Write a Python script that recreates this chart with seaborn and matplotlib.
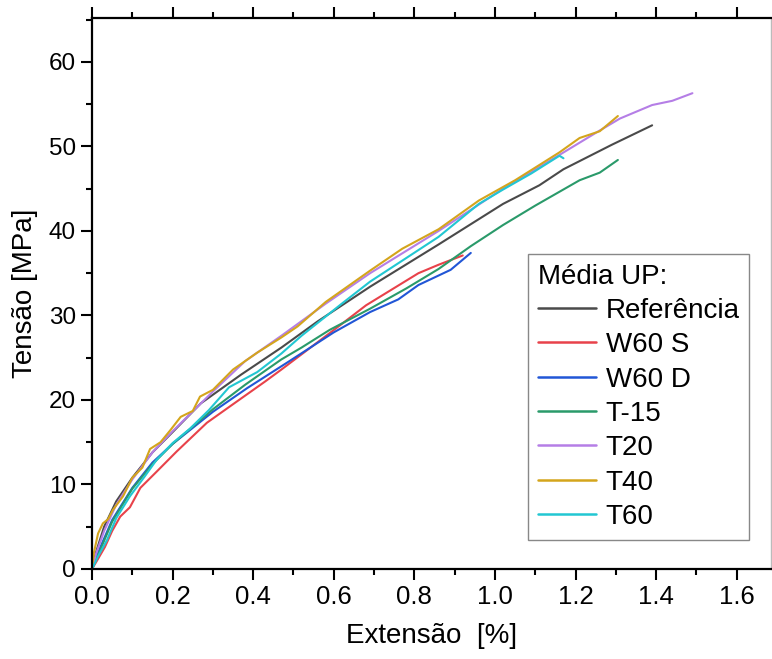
import matplotlib
matplotlib.use("Agg")
import matplotlib.pyplot as plt
from matplotlib import font_manager
from matplotlib.ticker import MultipleLocator
import pandas as pd
import seaborn as sns

# Mean stress-strain curves per series: strain [%] and stress [MPa]
ref_x = [0, 0.01, 0.03, 0.06, 0.10, 0.15, 0.20, 0.27, 0.37, 0.47, 0.56, 0.69, 0.86, 1.02, 1.11, 1.17, 1.29, 1.39]
ref_y = [0, 2.0, 5.0, 8.0, 10.8, 13.8, 16.2, 19.6, 23.0, 26.2, 29.3, 33.4, 38.4, 43.2, 45.4, 47.3, 50.2, 52.5]

w60s_x = [0, 0.015, 0.032, 0.05, 0.07, 0.094, 0.12, 0.16, 0.21, 0.285, 0.35, 0.43, 0.47, 0.52, 0.57, 0.62, 0.68, 0.81, 0.86, 0.92]
w60s_y = [0, 1.2, 2.6, 4.5, 6.2, 7.3, 9.6, 11.5, 13.9, 17.3, 19.5, 22.2, 23.6, 25.4, 27.2, 29.0, 31.2, 35.0, 36.0, 37.1]

w60d_x = [0, 0.02, 0.05, 0.10, 0.15, 0.20, 0.30, 0.385, 0.49, 0.60, 0.69, 0.76, 0.81, 0.89, 0.94]
w60d_y = [0, 2.5, 5.8, 9.6, 12.6, 14.8, 18.6, 21.4, 24.6, 28.0, 30.4, 31.9, 33.6, 35.4, 37.4]

t15_x = [0, 0.02, 0.05, 0.10, 0.15, 0.20, 0.30, 0.38, 0.47, 0.52, 0.59, 0.69, 0.78, 0.86, 0.94, 1.02, 1.10, 1.21, 1.26, 1.305]
t15_y = [0, 2.2, 5.6, 9.5, 12.4, 14.8, 18.9, 21.8, 24.8, 26.2, 28.3, 30.8, 33.2, 35.5, 38.2, 40.7, 43.0, 46.0, 46.9, 48.4]

t20_x = [0, 0.01, 0.03, 0.06, 0.10, 0.15, 0.20, 0.30, 0.38, 0.47, 0.58, 0.69, 0.86, 1.02, 1.16, 1.25, 1.31, 1.39, 1.44, 1.49]
t20_y = [0, 1.8, 4.5, 7.6, 10.6, 13.8, 16.3, 21.0, 24.6, 27.6, 31.4, 35.0, 40.0, 45.0, 49.0, 51.6, 53.3, 54.9, 55.4, 56.3]

t40_x = [0, 0.005, 0.015, 0.027, 0.04, 0.052, 0.077, 0.10, 0.125, 0.144, 0.17, 0.194, 0.22, 0.25, 0.268,
         0.30, 0.35, 0.41, 0.47, 0.51, 0.58, 0.69, 0.77, 0.86, 0.96, 1.02, 1.05, 1.09, 1.16, 1.21, 1.26, 1.305]
t40_y = [0, 2.0, 4.2, 5.4, 5.9, 7.0, 8.6, 10.8, 12.0, 14.2, 15.0, 16.4, 18.0, 18.7, 20.4,
         21.2, 23.6, 25.6, 27.4, 28.7, 31.6, 35.3, 37.9, 40.2, 43.6, 45.2, 46.0, 47.2, 49.3, 51.0, 51.8, 53.6]

t60_x = [0, 0.015, 0.037, 0.06, 0.094, 0.13, 0.16, 0.20, 0.243, 0.29, 0.34, 0.41, 0.47, 0.52, 0.62, 0.69,
         0.78, 0.86, 0.96, 1.02, 1.09, 1.14, 1.16, 1.17]
t60_y = [0, 1.5, 3.4, 6.0, 8.6, 10.9, 12.9, 14.9, 16.6, 18.8, 21.5, 23.3, 25.5, 27.6, 31.4, 34.0,
         36.8, 39.3, 43.2, 44.9, 46.8, 48.3, 48.9, 48.6]

series_names = ["Referência", "W60 S", "W60 D", "T-15", "T20", "T40", "T60"]
series_x = [ref_x, w60s_x, w60d_x, t15_x, t20_x, t40_x, t60_x]
series_y = [ref_y, w60s_y, w60d_y, t15_y, t20_y, t40_y, t60_y]
colors = ["#4a4a4a", "#e8424a", "#2156d6", "#2a9a6a", "#b57ee6", "#d4a51c", "#22c7d2"]

rows = []
for name, xs, ys in zip(series_names, series_x, series_y):
    for xv, yv in zip(xs, ys):
        rows.append({"serie": name, "strain": xv, "stress": yv})
df = pd.DataFrame(rows)

sns.set_theme(style="ticks")
names = {f.name for f in font_manager.fontManager.ttflist}
base = "Liberation Sans" if "Liberation Sans" in names else "DejaVu Sans"
plt.rcParams["font.family"] = [base, "DejaVu Sans"]
plt.rcParams.update({
    "axes.edgecolor": "black",
    "axes.linewidth": 1.6,
    "text.color": "black",
    "axes.labelcolor": "black",
    "xtick.color": "black",
    "ytick.color": "black",
})

fig = plt.figure(figsize=(7.72, 6.59), dpi=100)
ax = fig.add_axes([0.1192, 0.1366, 0.8795, 0.8361])

sns.lineplot(data=df, x="strain", y="stress", hue="serie", hue_order=series_names,
             palette=colors, estimator=None, units="serie", sort=False,
             linewidth=1.5, ax=ax)

ax.set_xlim(0, 1.685)
ax.set_ylim(0, 65.2)
ax.xaxis.set_minor_locator(MultipleLocator(0.1))
ax.yaxis.set_major_locator(MultipleLocator(10))
ax.yaxis.set_minor_locator(MultipleLocator(5))
ax.set_xticks([0, 0.2, 0.4, 0.6, 0.8, 1.0, 1.2, 1.4, 1.6])
ax.set_xticklabels(["0.0", "0.2", "0.4", "0.6", "0.8", "1.0", "1.2", "1.4", "1.6"])

ax.tick_params(which="both", direction="out", top=True, right=False, width=1.5)
ax.tick_params(which="major", length=8, labelsize=17.5)
ax.tick_params(which="minor", length=4.5)
ax.tick_params(axis="x", labelsize=18.5)
ax.spines["right"].set_color("#bbbbbb")
ax.spines["right"].set_linewidth(1.0)

ax.set_xlabel("Extensão  [%]", fontsize=20, labelpad=10)
ax.set_ylabel("Tensão [MPa]", fontsize=20, labelpad=8)

handles, labels = ax.get_legend_handles_labels()
leg = ax.legend(handles, labels, title="Média UP:", loc="upper left",
                bbox_to_anchor=(0.642, 0.572), fontsize=20, title_fontsize=20,
                frameon=True, fancybox=False, edgecolor="#888888", framealpha=1,
                handlelength=2.1, handletextpad=0.35, labelspacing=0.3,
                borderpad=0.35, borderaxespad=0)
leg._legend_box.align = "left"
leg.get_frame().set_linewidth(1.0)
for line in leg.get_lines():
    line.set_linewidth(1.8)

fig.savefig("out.png", dpi=100)
